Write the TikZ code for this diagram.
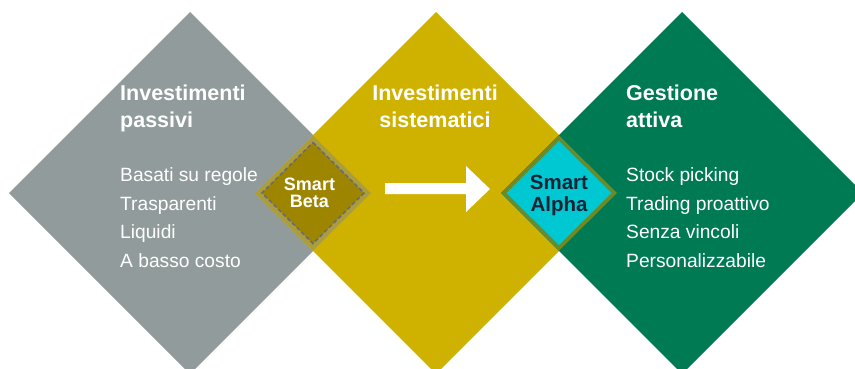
\documentclass[tikz,border=0pt]{standalone}
\usepackage{fontspec}
\setmainfont{Liberation Sans}
\definecolor{greyc}{RGB}{145,155,155}
\definecolor{yellowc}{RGB}{207,177,0}
\definecolor{greenc}{RGB}{0,122,83}
\definecolor{betaband}{RGB}{170,157,64}
\definecolor{betafill}{RGB}{158,133,0}
\definecolor{betadash}{RGB}{105,105,115}
\definecolor{alphaband}{RGB}{108,138,40}
\definecolor{alphafill}{RGB}{0,200,210}
\definecolor{alphatext}{RGB}{27,34,51}
\tikzset{
  titletext/.style={anchor=base west, inner sep=0pt, text=white, font=\fontsize{21.5}{26}\selectfont\bfseries},
  titlemid/.style={anchor=base, inner sep=0pt, text=white, font=\fontsize{21.5}{26}\selectfont\bfseries},
  bodytext/.style={anchor=base west, inner sep=0pt, text=white, font=\fontsize{19.2}{22}\selectfont},
  betatext/.style={anchor=base, inner sep=0pt, text=white, font=\fontsize{18}{20}\selectfont\bfseries},
  alphatxt/.style={anchor=base, inner sep=0pt, text=alphatext, font=\fontsize{20.5}{24}\selectfont\bfseries},
}
\begin{document}
\begin{tikzpicture}[x=1pt,y=-1pt]
\useasboundingbox (0,0) rectangle (855,369);
\clip (0,0) rectangle (855,369);
% big diamonds
\fill[greyc] (190,12) -- (371,193) -- (190,374) -- (9,193) -- cycle;
\fill[yellowc] (436,12) -- (617,193) -- (436,374) -- (255,193) -- cycle;
\fill[greenc] (682,12) -- (863,193) -- (682,374) -- (501,193) -- cycle;
% Smart Beta overlap
\fill[betaband] (313,135.5) -- (371,193) -- (313,250.5) -- (255,193) -- cycle;
\filldraw[fill=betafill, draw=betadash, line width=1.5pt, dash pattern=on 4pt off 2.5pt]
  (313,142.5) -- (364,193) -- (313,243.5) -- (262,193) -- cycle;
% Smart Alpha overlap
\fill[alphaband] (559,135.5) -- (617,193) -- (559,250.5) -- (501,193) -- cycle;
\fill[alphafill] (559,141) -- (611.5,193) -- (559,245) -- (506.5,193) -- cycle;
% arrow
\fill[white] (385,183) -- (466,183) -- (466,166) -- (490,189) -- (466,212) -- (466,194) -- (385,194) -- cycle;
% titles
\node[titletext] (t1a) at (120,100) {Investimenti};
\node[titletext] (t1b) at (120,128) {passivi};
\node[titlemid] (t2a) at (435,100) {Investimenti};
\node[titlemid] (t2b) at (435,128) {sistematici};
\node[titletext] (t3a) at (626,100) {Gestione};
\node[titletext] (t3b) at (626,128) {attiva};
% body left
\node[bodytext] (b1a) at (120,181) {Basati su regole};
\node[bodytext] (b1b) at (120,210) {Trasparenti};
\node[bodytext] (b1c) at (120,238.5) {Liquidi};
\node[bodytext] (b1d) at (120,267.5) {A basso costo};
% body right
\node[bodytext] (b3a) at (626,181) {Stock picking};
\node[bodytext] (b3b) at (626,210) {Trading proattivo};
\node[bodytext] (b3c) at (626,238.5) {Senza vincoli};
\node[bodytext] (b3d) at (626,267.5) {Personalizzabile};
% small diamond labels
\node[betatext] (sb1) at (309.5,190) {Smart};
\node[betatext] (sb2) at (309.5,207.5) {Beta};
\node[alphatxt] (sa1) at (559,189) {Smart};
\node[alphatxt] (sa2) at (559,211) {Alpha};
\end{tikzpicture}
\end{document}
